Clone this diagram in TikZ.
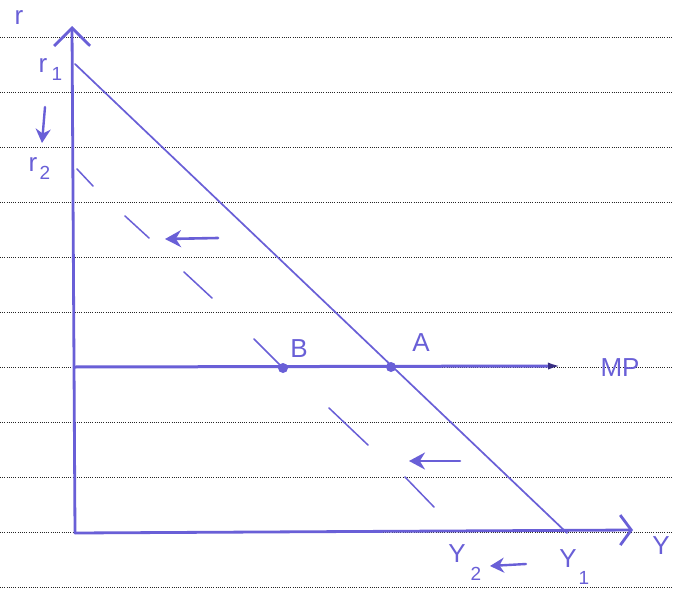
\documentclass[tikz,border=0pt]{standalone}
\usepackage{fontspec}
\setmainfont{Liberation Sans}
\usetikzlibrary{arrows.meta}
\definecolor{ink}{RGB}{105,95,215}
\definecolor{darkink}{RGB}{55,45,130}
\begin{document}
\begin{tikzpicture}[x=1pt,y=-1pt,
  paper/.style={draw=black!85, line width=1pt, dash pattern=on 1pt off 1.2pt},
  axis/.style={draw=ink, line width=2.8pt, line cap=round, line join=round},
  demand/.style={draw=ink, line width=1.7pt, line cap=round},
  shifted/.style={draw=ink, line width=1.5pt, line cap=round},
  mpline/.style={draw=ink, line width=3pt, line cap=round},
  shiftarrow/.style={draw=ink, line width=2.6pt, line cap=round, -{Stealth[length=16pt,width=17pt]}},
  lbl/.style={text=ink, font=\fontsize{26}{28}\selectfont, inner sep=0pt},
  sub/.style={text=ink, font=\fontsize{19}{21}\selectfont, inner sep=0pt},
  dot/.style={fill=ink}]
\useasboundingbox (0,0) rectangle (673,589);
\fill[white] (0,0) rectangle (673,589);
% ruled paper
\foreach \y in {37,92,...,587} \draw[paper] (0,\y) -- (673,\y);
% key points
\coordinate (O) at (75,533);
\coordinate (ytop) at (72,26);
\coordinate (xend) at (633,530);
\coordinate (r1pt) at (75,64);
\coordinate (Y1pt) at (567,533);
\coordinate (mpL) at (75,367);
\coordinate (mpR) at (562,366);
\coordinate (A) at (391,367);
\coordinate (B) at (283,368);
% axes
\draw[axis, -{Straight Barb[length=18pt,width=36pt,line width=2.8pt]}] (O) -- (ytop);
\draw[axis, -{Straight Barb[length=11pt,width=30pt,line width=2.8pt]}] (O) -- (xend);
% demand (IS) line
\draw[demand] (r1pt) -- (Y1pt);
% MP line
\draw[mpline, -{Latex[length=14pt,width=7pt,color=darkink,fill=darkink]}] (mpL) -- (mpR);
% shifted line (dashed, hand segments)
\draw[shifted] (77,169) -- (93,186);
\draw[shifted] (125,216) -- (149,238);
\draw[shifted] (184,272) -- (212,298);
\draw[shifted] (254,339) -- (B);
\draw[shifted] (329,408) -- (368,445);
\draw[shifted] (405,477) -- (434,507);
% points
\fill[dot] (A) circle (5);
\fill[dot] (B) circle (5);
% shift arrows
\coordinate (s1a) at (218,238);
\coordinate (s1b) at (165,239);
\coordinate (s2a) at (460,461);
\coordinate (s2b) at (409,461);
\draw[shiftarrow] (s1a) -- (s1b);
\draw[shiftarrow] (s2a) -- (s2b);
\coordinate (rda) at (45,107);
\coordinate (rdb) at (42,143);
\draw[draw=ink, line width=2.4pt, line cap=round, -{Stealth[length=14pt,width=15pt]}] (rda) -- (rdb);
\coordinate (yda) at (526,564);
\coordinate (ydb) at (490,566);
\draw[draw=ink, line width=2.4pt, line cap=round, -{Stealth[length=14pt,width=15pt]}] (yda) -- (ydb);
% labels
\node[lbl] (rlab) at (19,18) {r};
\node[lbl] (r1lab) at (43,66) {r};
\node[sub] (r1sub) at (57,74) {1};
\node[lbl] (r2lab) at (33,165) {r};
\node[sub] (r2sub) at (45,173) {2};
\node[lbl] (Alab) at (421,343) {A};
\node[lbl] (Blab) at (299,349) {B};
\node[lbl] (MPlab) at (620,368) {MP};
\node[lbl] (Y2lab) at (457,554) {Y};
\node[sub] (Y2sub) at (476,574) {2};
\node[lbl] (Y1lab) at (568,559) {Y};
\node[sub] (Y1sub) at (584,578) {1};
\node[lbl] (Ylab) at (661,546) {Y};
\end{tikzpicture}
\end{document}
